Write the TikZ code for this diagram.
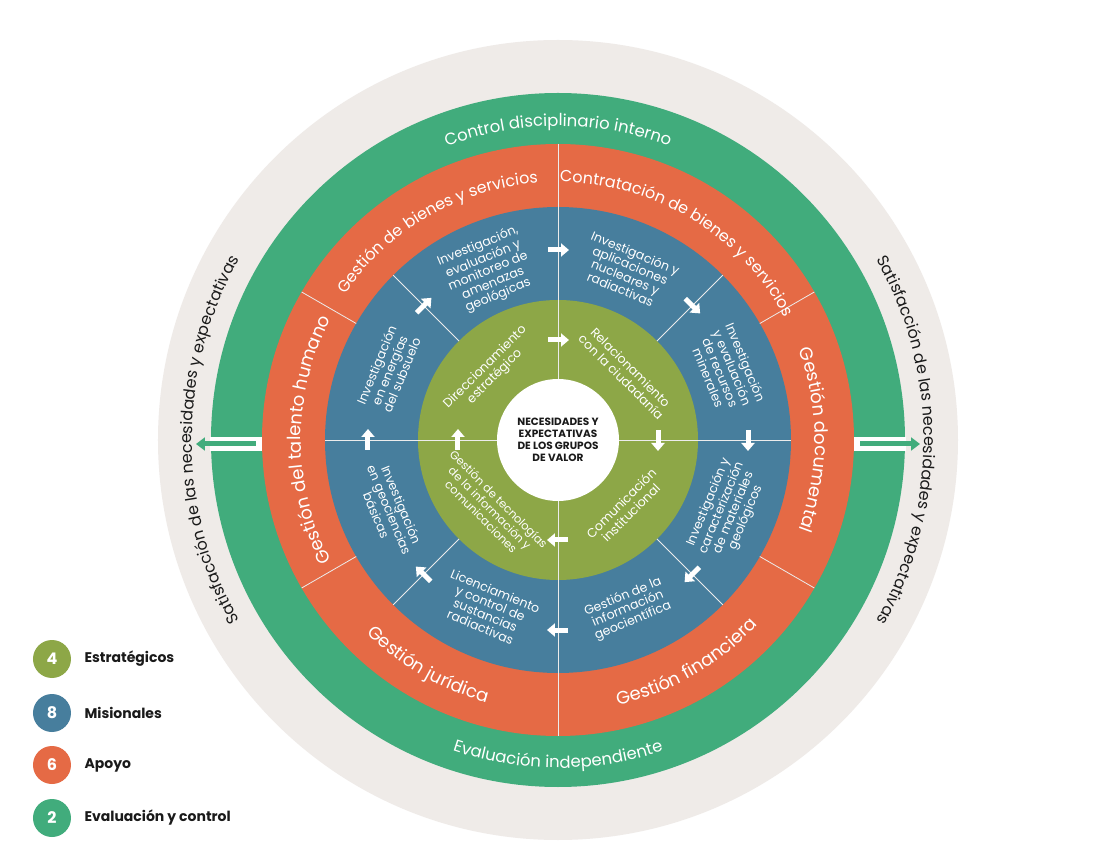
\documentclass[tikz,border=0pt]{standalone}
\usepackage{fontspec}
\setmainfont{Poppins}
\usetikzlibrary{decorations.text,calc,arrows.meta}
\definecolor{beige}{HTML}{EFEBE8}
\definecolor{gr}{HTML}{41AC7C}
\definecolor{orn}{HTML}{E56A45}
\definecolor{blu}{HTML}{477E9D}
\definecolor{olv}{HTML}{8DA747}
\definecolor{txt}{HTML}{1A1A1A}
\begin{document}
\begin{tikzpicture}[x=1pt,y=1pt,
  blt/.style={text=white,font=\fontsize{12.5}{13}\selectfont,align=center,inner sep=0pt},
  olt/.style={text=white,font=\fontsize{12.5}{13.5}\selectfont,align=center,inner sep=0pt},
  div/.style={white!85!gray,line width=0.8pt},
  wa/.style={white,line width=5pt,-{Triangle[length=8pt,width=13pt]}},
  leg/.style={circle,minimum size=38pt,inner sep=0pt,text=white,font=\fontsize{16}{16}\selectfont\bfseries},
  legt/.style={anchor=west,text=txt,font=\fontsize{14}{14}\selectfont\bfseries}]
\useasboundingbox (-558,-424) rectangle (558,440);
\fill[white] (-558,-424) rectangle (558,440);
% rings
\fill[beige] (0,0) circle[radius=400];
\fill[gr] (0,0) circle[radius=347];
\fill[orn] (0,0) circle[radius=296];
\fill[blu] (0,0) circle[radius=233];
\fill[olv] (0,0) circle[radius=140];
\node[circle,fill=white,minimum size=122pt,inner sep=0pt] (ctr) at (0,0) {};
\node[align=center,font=\fontsize{10.5}{12}\selectfont\bfseries,text=txt] (ctrt) at (0,0) {NECESIDADES Y\\EXPECTATIVAS\\DE LOS GRUPOS\\DE VALOR};
% dividers
\foreach \a in {90,150,210,270,330,30} \draw[div] (\a:233) -- (\a:296);
\foreach \a in {0,45,...,315} \draw[div] (\a:140) -- (\a:233);
\foreach \a in {0,90,180,270} \draw[div] (\a:61) -- (\a:140);
% side gaps and arrows
\fill[white] (-348,-11) rectangle (-296,3);
\fill[white] (296,-11) rectangle (348,3);
\coordinate (la) at (-302,-4); \coordinate (lb) at (-362,-4);
\coordinate (ra) at (302,-4); \coordinate (rb) at (362,-4);
\draw[gr,line width=5pt,-{Triangle[length=9pt,width=13pt]}] (la) -- (lb);
\draw[gr,line width=5pt,-{Triangle[length=9pt,width=13pt]}] (ra) -- (rb);
% green ring text
\path[decorate,decoration={text along path,text align=center,text color=white,
  text={|\fontsize{16.5}{16.5}\selectfont|Control disciplinario interno}}]
  (125:314) arc[start angle=125,end angle=55,radius=314];
\path[decorate,decoration={text along path,text align=center,text color=white,
  text={|\fontsize{16.5}{16.5}\selectfont|Evaluación independiente}}]
  (235:328) arc[start angle=235,end angle=305,radius=328];
% beige side text
\path[decorate,decoration={text along path,text align=center,text color=txt,
  text={|\fontsize{16}{16}\selectfont|Satisfacción de las necesidades y expectativas}}]
  (220:366) arc[start angle=220,end angle=140,radius=366];
\path[decorate,decoration={text along path,text align=center,text color=txt,
  text={|\fontsize{16}{16}\selectfont|Satisfacción de las necesidades y expectativas}}]
  (40:366) arc[start angle=40,end angle=-40,radius=366];
% orange ring text
\path[decorate,decoration={text along path,text align=center,text color=white,
  text={|\fontsize{16}{16}\selectfont|Gestión de bienes y servicios}}]
  (148:258) arc[start angle=148,end angle=92,radius=258];
\path[decorate,decoration={text along path,text align=center,text color=white,
  text={|\fontsize{16}{16}\selectfont|Contratación de bienes y servicios}}]
  (89:258) arc[start angle=89,end angle=29,radius=258];
\path[decorate,decoration={text along path,text align=center,text color=white,
  text={|\fontsize{18}{18}\selectfont|Gestión del talento humano}}]
  (208:257) arc[start angle=208,end angle=152,radius=257];
\path[decorate,decoration={text along path,text align=center,text color=white,
  text={|\fontsize{18}{18}\selectfont|Gestión documental}}]
  (28:257) arc[start angle=28,end angle=-28,radius=257];
\path[decorate,decoration={text along path,text align=center,text color=white,
  text={|\fontsize{18}{18}\selectfont|Gestión jurídica}}]
  (212:272) arc[start angle=212,end angle=268,radius=272];
\path[decorate,decoration={text along path,text align=center,text color=white,
  text={|\fontsize{18}{18}\selectfont|Gestión financiera}}]
  (272:272) arc[start angle=272,end angle=328,radius=272];
% blue ring texts
\node[blt,rotate=22.5] (b1) at (112.5:183) {Investigación,\\evaluación y\\monitoreo de\\amenazas\\geológicas};
\node[blt,rotate=-22.5] (b2) at (67.5:183) {Investigación y\\aplicaciones\\nucleares y\\radiactivas};
\node[blt,rotate=-67.5] (b3) at (22.5:183) {Investigación\\y evaluación\\de recursos\\minerales};
\node[blt,rotate=67.5] (b4) at (-22.5:183) {Investigación y\\caracterización\\de materiales\\geológicos};
\node[blt,rotate=22.5] (b5) at (-67.5:183) {Gestión de la\\información\\geocientífica};
\node[blt,rotate=-22.5] (b6) at (-112.5:183) {Licenciamiento\\y control de\\sustancias\\radiactivas};
\node[blt,rotate=-67.5] (b7) at (-157.5:183) {Investigación\\en geociencias\\básicas};
\node[blt,rotate=67.5] (b8) at (157.5:183) {Investigación\\en energías\\del subsuelo};
% olive texts
\node[olt,rotate=45] (o1) at (135:96) {Direccionamiento\\estratégico};
\node[olt,rotate=-45] (o2) at (45:96) {Relacionamiento\\con la ciudadanía};
\node[olt,rotate=45] (o3) at (-45:96) {Comunicación\\institucional};
\node[olt,rotate=-45,font=\fontsize{11.5}{12.5}\selectfont] (o4) at (-135:96) {Gestión de tecnologías\\de la información y\\comunicaciones};
% white arrows
\foreach \a in {90,45,...,-225} {
  \coordinate (p) at (\a:190);
  \draw[wa] ($(p)+(\a+90:10)$) -- ($(p)+(\a-90:11)$);
}
\foreach \a in {90,0,-90,-180} {
  \coordinate (q) at (\a:100);
  \draw[wa] ($(q)+(\a+90:10)$) -- ($(q)+(\a-90:11)$);
}
% legend
\node[leg,fill=olv] (l1) at (-506,-219) {4};
\node[leg,fill=blu] (l2) at (-506,-273) {8};
\node[leg,fill=orn] (l3) at (-506,-325) {6};
\node[leg,fill=gr] (l4) at (-506,-378) {2};
\node[legt] (t1) at (-477,-219) {Estratégicos};
\node[legt] (t2) at (-477,-273) {Misionales};
\node[legt] (t3) at (-477,-325) {Apoyo};
\node[legt] (t4) at (-477,-378) {Evaluación y control};
\end{tikzpicture}
\end{document}
